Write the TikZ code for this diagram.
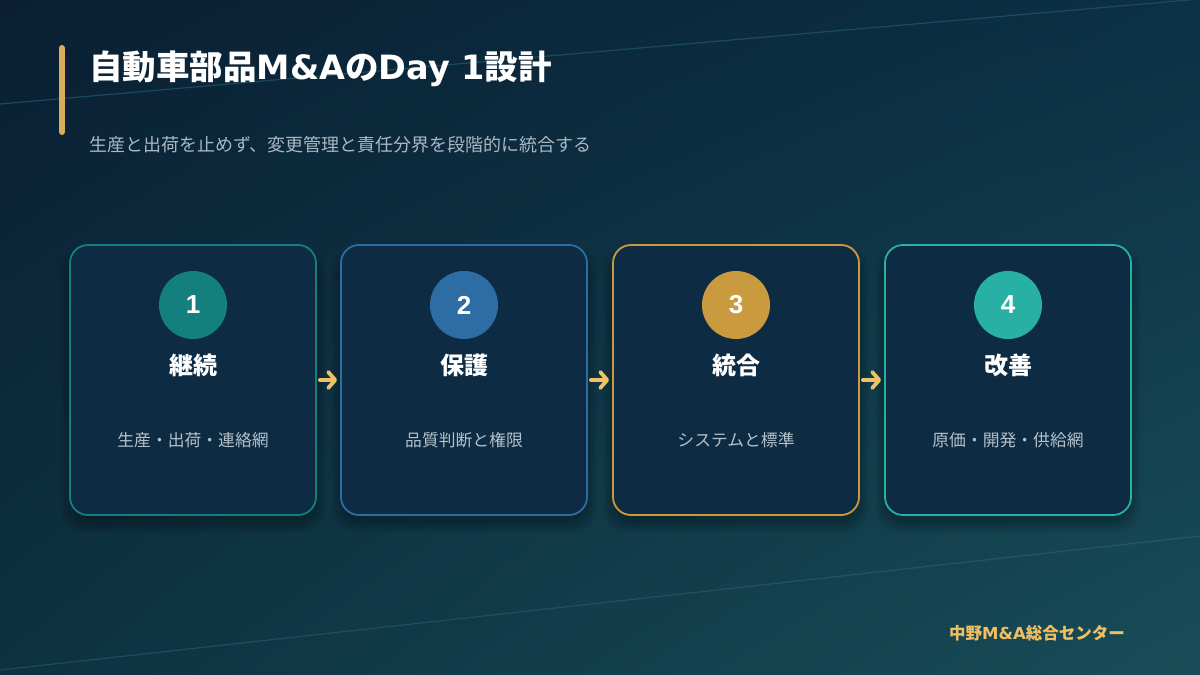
\documentclass[tikz,border=0pt]{standalone}
\usepackage{fontspec}
\setmainfont{Noto Sans CJK JP}
\newfontfamily\numfont{Liberation Sans}
\newfontfamily\latinfont{DejaVu Sans}
\usetikzlibrary{calc,arrows.meta,shadings}
\definecolor{bgUL}{HTML}{0A1F33}
\definecolor{bgUR}{HTML}{0C3044}
\definecolor{bgLL}{HTML}{0D3141}
\definecolor{bgLR}{HTML}{184D58}
\definecolor{cardfill}{HTML}{0D2B42}
\definecolor{cA}{HTML}{13807D}
\definecolor{cB}{HTML}{2E6DA4}
\definecolor{cC}{HTML}{C99A3E}
\definecolor{cD}{HTML}{27B0A3}
\definecolor{gold}{HTML}{F0C266}
\definecolor{goldbar}{HTML}{D9AE5A}
\definecolor{subgray}{HTML}{A9B8C4}
\definecolor{descgray}{HTML}{B4C1CA}
\definecolor{faintline}{HTML}{1E5366}
\tikzset{
  card/.style={draw, line width=1.8pt, fill=cardfill, rounded corners=18pt,
    minimum width=246pt, minimum height=270pt},
  softshadow/.style={fill=black, opacity=0.07, rounded corners=22pt},
  badge/.style={circle, minimum size=68pt, inner sep=0pt, text=white,
    font=\numfont\bfseries\fontsize{26}{26}\selectfont},
  cardtitle/.style={text=white, font=\bfseries\fontsize{24}{24}\selectfont},
  carddesc/.style={text=descgray, font=\fontsize{16.8}{16.8}\selectfont},
  flow/.style={draw=gold, line width=3.8pt, line cap=round,
    -{Straight Barb[length=7pt,width=16pt,line width=3.8pt,round]}},
}
\begin{document}
\begin{tikzpicture}[x=1pt,y=-1pt]
\useasboundingbox (0,0) rectangle (1200,675);
\shade[upper left=bgUL, upper right=bgUR, lower left=bgLL, lower right=bgLR] (0,0) rectangle (1200,675);
% faint background lines
\draw[faintline, line width=1.2pt, opacity=0.8] (0,104) -- (1200,-1);
\draw[faintline!80!white, line width=1.2pt, opacity=0.35] (0,670) -- (1200,536);
% title
\draw[goldbar, line width=6pt, line cap=round] (62,48) -- (62,132);
\node[anchor=west, text=white, inner sep=0pt, font=\bfseries\fontsize{33.5}{33.5}\selectfont] (title) at (89,69) {自動車部品{\latinfont M\&A}の{\latinfont Day 1}設計};
\node[anchor=west, text=subgray, inner sep=0pt, font=\fontsize{18}{18}\selectfont] (subtitle) at (89,145) {生産と出荷を止めず、変更管理と責任分界を段階的に統合する};
% soft shadows
\foreach \cx in {193,464,736,1008}{
  \foreach \g in {2,5,8,11}{
    \fill[softshadow] (\cx-123-\g+2, 245-\g+14) rectangle (\cx+123+\g-2, 515+\g+6);
  }
}
% cards
\node[card, draw=cA] (card1) at (193,380) {};
\node[card, draw=cB] (card2) at (464,380) {};
\node[card, draw=cC] (card3) at (736,380) {};
\node[card, draw=cD] (card4) at (1008,380) {};
% badges
\node[badge, fill=cA] (b1) at (193,305) {1};
\node[badge, fill=cB] (b2) at (464,305) {2};
\node[badge, fill=cC] (b3) at (736,305) {3};
\node[badge, fill=cD] (b4) at (1008,305) {4};
% titles
\node[cardtitle] (t1) at (193,365) {継続};
\node[cardtitle] (t2) at (464,365) {保護};
\node[cardtitle] (t3) at (736,365) {統合};
\node[cardtitle] (t4) at (1008,365) {改善};
% descriptions
\node[carddesc] (d1) at (193,440) {生産・出荷・連絡網};
\node[carddesc] (d2) at (464,440) {品質判断と権限};
\node[carddesc] (d3) at (736,440) {システムと標準};
\node[carddesc] (d4) at (1008,440) {原価・開発・供給網};
% arrows
\draw[flow] ($(card1.east)+(3,0)$) -- ($(card2.west)+(-3,0)$);
\draw[flow] ($(card2.east)+(3,0)$) -- ($(card3.west)+(-3,0)$);
\draw[flow] ($(card3.east)+(3,0)$) -- ($(card4.west)+(-3,0)$);
% footer
\node[anchor=east, text=gold!95!orange, inner sep=0pt, font=\bfseries\fontsize{16.5}{16.5}\selectfont] (footer) at (1125,633) {中野{\latinfont M\&A}総合センター};
\end{tikzpicture}
\end{document}
